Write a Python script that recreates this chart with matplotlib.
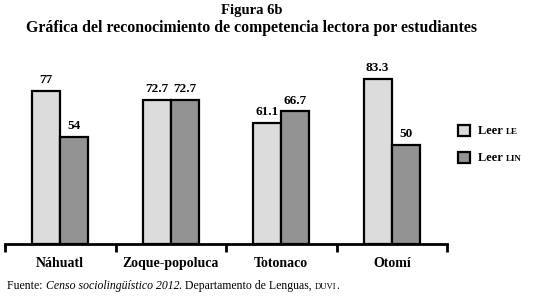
import matplotlib
matplotlib.use("Agg")
import matplotlib.pyplot as plt
from matplotlib.patches import Rectangle

categories = ["Náhuatl", "Zoque-popoluca", "Totonaco", "Otomí"]
leer_le = [77, 72.7, 61.1, 83.3]
leer_lin = [54, 72.7, 66.7, 50]
series_names = [("Leer ", "LE"), ("Leer ", "LIN")]
title1 = "Figura 6b"
title2 = "Gráfica del reconocimiento de competencia lectora por estudiantes"

c_le = "#dcdcdc"
c_lin = "#939393"
SERIF = ["Liberation Serif", "DejaVu Serif"]

W, H = 534, 298
fig = plt.figure(figsize=(W / 100, H / 100), dpi=100)
fig.patch.set_facecolor("white")
renderer = fig.canvas.get_renderer()

ax = fig.add_axes([5 / W, (H - 243.5) / H, (447 - 5) / W, 198 / H])
ax.set_xlim(-0.5, len(categories) - 0.5)
ax.set_ylim(0, 100)

bw = 0.255
x = list(range(len(categories)))
b1 = ax.bar([i - bw / 2 for i in x], leer_le, bw, color=c_le, edgecolor="black", linewidth=1.6, zorder=2)
b2 = ax.bar([i + bw / 2 for i in x], leer_lin, bw, color=c_lin, edgecolor="black", linewidth=1.6, zorder=2)

for bars, vals in ((b1, leer_le), (b2, leer_lin)):
    for r, v in zip(bars, vals):
        ax.annotate(f"{v:g}", (r.get_x() + r.get_width() / 2, v), xytext=(0, 5.5),
                    textcoords="offset points", ha="center", va="baseline",
                    fontsize=9.5, fontweight="bold", family=SERIF)

for s in ("top", "left", "right"):
    ax.spines[s].set_visible(False)
ax.spines["bottom"].set_linewidth(2)
ax.set_yticks([])
ax.set_xticks([i - 0.5 for i in range(len(categories) + 1)])
ax.set_xticklabels([])
ax.tick_params(axis="x", direction="out", length=6, width=2)

for i, c in enumerate(categories):
    ax.annotate(c, (i, 0), xytext=(0, -(267 - 243.5) * 0.72), textcoords="offset points",
                ha="center", va="baseline",
                fontsize=10, fontweight="bold", family=SERIF, annotation_clip=False)

fig.text(252 / W, 1 - 14 / H, title1, ha="center", va="baseline", fontsize=10.5, fontweight="bold", family=SERIF)
fig.text(252 / W, 1 - 31.5 / H, title2, ha="center", va="baseline", fontsize=11.4, fontweight="bold", family=SERIF)


def chain(pieces, x0, ybase):
    """pieces: list of (text, kwargs); placed left-to-right on a common baseline (pixels from top)."""
    xpix = x0
    for txt, kw in pieces:
        t = fig.text(xpix / W, 1 - ybase / H, txt, ha="left", va="baseline", family=SERIF, **kw)
        xpix = t.get_window_extent(renderer).x1
    return xpix


# legend
for k, ((main, sc), col) in enumerate(zip(series_names, [c_le, c_lin])):
    yc = 130.5 + k * 27
    fig.patches.append(Rectangle((458 / W, 1 - (yc + 5.5) / H), 12 / W, 11 / H, transform=fig.transFigure,
                                 facecolor=col, edgecolor="black", linewidth=1.6))
    chain([(main, dict(fontsize=9, fontweight="bold")),
           (sc, dict(fontsize=6.5, fontweight="bold"))], 478, yc + 3.5)

# footer
chain([("Fuente: ", dict(fontsize=8.5)),
       ("Censo sociolingüístico 2012", dict(fontsize=8.5, style="italic")),
       (". Departamento de Lenguas, ", dict(fontsize=8.5)),
       ("DUVI", dict(fontsize=6.2)),
       (".", dict(fontsize=8.5))], 7, 289)

fig.savefig("out.png", dpi=100, facecolor="white")
